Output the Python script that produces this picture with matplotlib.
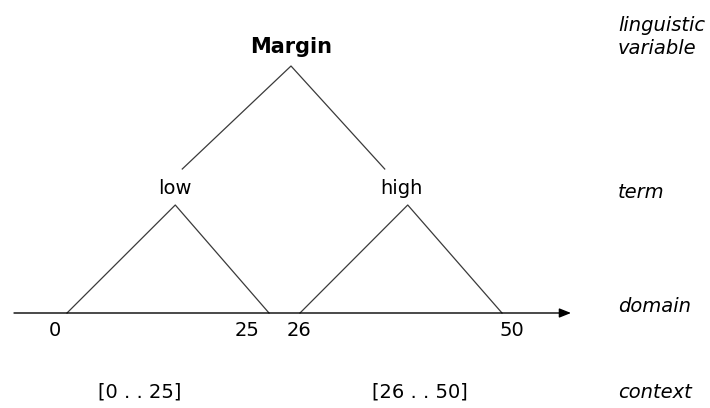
import numpy as np
import matplotlib
matplotlib.use("Agg")
import matplotlib.pyplot as plt

# data
variable = "Margin"
terms = ["low", "high"]
term_ranges = [(0, 25), (26, 50)]
term_peaks = [13.4, 38.8]
tick_values = [0, 25, 26, 50]
contexts = ["[0 . . 25]", "[26 . . 50]"]
row_names = ["linguistic\nvariable", "term", "domain", "context"]

# layout (pixel space, y grows downward)
W, H = 710, 408
tick_px = [67, 269, 300, 502]          # where domain values land on the axis
label_shift = [-12, -22, -1, 10]       # tick label nudges
context_px = [140, 420]
row_y = [37, 193, 307, 392]
axis_y = 313
tri_h = 108
term_y = 188
tree_top = (291, 66)
tree_leaf_y = 169
ink = "#3a3a3a"
fs = 14


def dom_x(v):
    return np.interp(v, tick_values, tick_px)


fig = plt.figure(figsize=(W / 100, H / 100), dpi=100)
ax = fig.add_axes([0, 0, 1, 1])
ax.set_xlim(0, W)
ax.set_ylim(H, 0)
ax.axis("off")

# domain axis with arrow
ax.annotate("", xy=(571, axis_y), xytext=(14, axis_y),
            arrowprops=dict(arrowstyle="-|>,head_length=0.7,head_width=0.28",
                            color="black", lw=1.0, shrinkA=0, shrinkB=0))

# triangular membership functions
peak_px = []
for (a, b), p in zip(term_ranges, term_peaks):
    xs = dom_x([a, p, b])
    ax.plot(xs, [axis_y, axis_y - tri_h, axis_y], color=ink, lw=0.9)
    peak_px.append(xs[1])

# term labels
for t, px, sh in zip(terms, peak_px, [0, -6]):
    ax.text(px + sh, term_y, t, ha="center", va="center", fontsize=fs)

# tree from variable to terms
ax.plot([peak_px[0] + 7, tree_top[0], peak_px[1] - 23],
        [tree_leaf_y, tree_top[1], tree_leaf_y], color=ink, lw=0.9)
ax.text(tree_top[0], 47, variable, ha="center", va="center",
        fontsize=15, fontweight="bold")

# tick labels
for v, sh in zip(tick_values, label_shift):
    ax.text(dom_x(v) + sh, 331, str(v), ha="center", va="center", fontsize=fs)

# context intervals
for c, px in zip(contexts, context_px):
    ax.text(px, row_y[3], c, ha="center", va="center", fontsize=fs)

# row names on the right
for name, y in zip(row_names, row_y):
    ax.text(618, y, name, ha="left", va="center", fontsize=fs,
            style="italic", linespacing=1.25)

fig.savefig("out.png", dpi=100)
